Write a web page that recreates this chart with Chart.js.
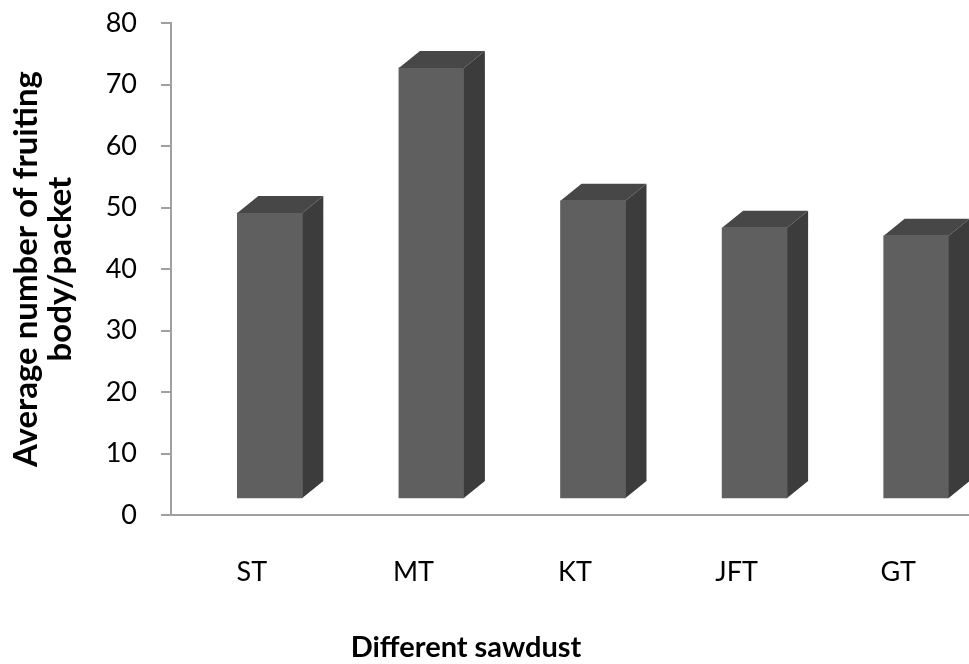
<!DOCTYPE html>
<html>
<head>
<meta charset="utf-8">
<script src="https://cdn.jsdelivr.net/npm/chart.js@4/dist/chart.umd.min.js"></script>
<style>
  html, body { margin: 0; padding: 0; background: #fff; overflow: hidden; }
  /* slightly wider than the window: the plot runs off the right edge as in the original */
  #wrap { width: 979px; height: 664px; }
</style>
</head>
<body>
<div id="wrap"><canvas id="chart"></canvas></div>
<script>
// values (3-D columns, front face height)
const categories = ['ST', 'MT', 'KT', 'JFT', 'GT'];
const fruitingBodies = [46.5, 70.1, 48.5, 44.1, 42.8];
const yTicks = [0, 10, 20, 30, 40, 50, 60, 70, 80];

const FONT = 'Lato, "Open Sans", sans-serif';

// oblique projection used by the original 3-D chart
const proj = { gapX: 18, gapY: 16, depthX: 21, depthY: 17 };

const columns3d = {
    id: 'columns3d',
    beforeDatasetsDraw(chart) {
        chart.ctx.save();
        chart.ctx.translate(proj.gapX, -proj.gapY);
    },
    afterDatasetsDraw(chart) {
        const ctx = chart.ctx;
        chart.getDatasetMeta(0).data.forEach(bar => {
            const l = bar.x - bar.width / 2;
            const r = bar.x + bar.width / 2;
            const t = bar.y;
            const b = bar.base;
            const dx = proj.depthX, dy = proj.depthY;
            // top face
            ctx.beginPath();
            ctx.moveTo(l, t);
            ctx.lineTo(l + dx, t - dy);
            ctx.lineTo(r + dx, t - dy);
            ctx.lineTo(r, t);
            ctx.closePath();
            ctx.fillStyle = '#474747';
            ctx.fill();
            // side face
            ctx.beginPath();
            ctx.moveTo(r, t);
            ctx.lineTo(r + dx, t - dy);
            ctx.lineTo(r + dx, b - dy);
            ctx.lineTo(r, b);
            ctx.closePath();
            ctx.fillStyle = '#3c3c3c';
            ctx.fill();
        });
        ctx.restore();
    },
    afterDraw(chart) {
        // x axis title, centred a little left of the canvas middle like the original
        const ctx = chart.ctx;
        ctx.save();
        ctx.font = 'bold 29px ' + FONT;
        ctx.fillStyle = '#000';
        ctx.textAlign = 'center';
        ctx.textBaseline = 'middle';
        ctx.fillText('Different sawdust', 466, 648);
        ctx.restore();
    },
};

new Chart(document.getElementById('chart'), {
    type: 'bar',
    data: {
        labels: categories,
        datasets: [{
            data: fruitingBodies,
            backgroundColor: '#5f5f5f',
            borderWidth: 0,
            barThickness: 65,
        }],
    },
    options: {
        responsive: true,
        maintainAspectRatio: false,
        animation: false,
        layout: { padding: { top: 23, left: 0, right: 0, bottom: 0 } },
        plugins: {
            legend: { display: false },
            tooltip: { enabled: false },
        },
        scales: {
            x: {
                grid: { display: false },
                border: { color: '#a0a0a0', width: 2 },
                ticks: { font: { family: FONT, size: 27 }, color: '#000', padding: 33 },
                afterFit: s => { s.height = 149; s.paddingLeft = 0; s.paddingRight = 0; },
            },
            y: {
                min: 0,
                max: 80,
                afterBuildTicks: s => { s.ticks = yTicks.map(v => ({ value: v })); },
                grid: {
                    drawOnChartArea: false,
                    drawTicks: true,
                    tickLength: 10,
                    color: '#a0a0a0',
                    lineWidth: 2,
                },
                border: { color: '#a0a0a0', width: 2 },
                ticks: { font: { family: FONT, size: 27 }, color: '#000', padding: 24 },
                title: {
                    display: true,
                    text: ['Average number of fruiting', 'body/packet'],
                    font: { family: FONT, size: 33, weight: 'bold', lineHeight: 1.04 },
                    color: '#000',
                    padding: { top: 9, bottom: 0 },
                },
                afterFit: s => { s.width = 171; s.paddingTop = 0; s.paddingBottom = 0; },
            },
        },
    },
    plugins: [columns3d],
});
</script>
</body>
</html>
